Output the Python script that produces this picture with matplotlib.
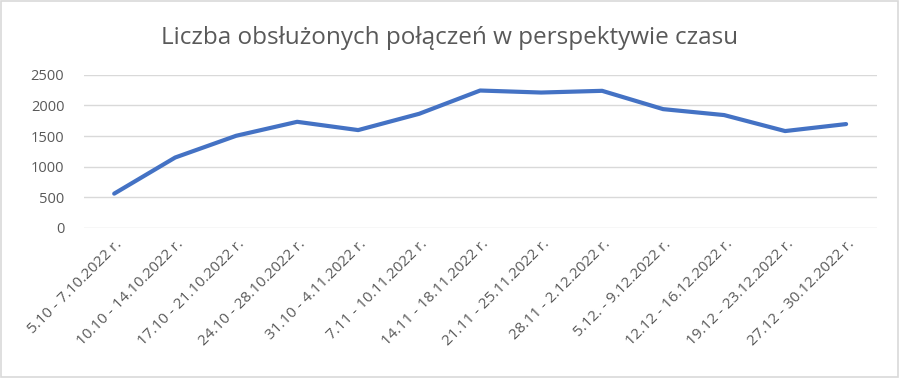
import matplotlib.pyplot as plt
from matplotlib.transforms import ScaledTranslation

# data
weeks = ["5.10 - 7.10.2022 r.", "10.10 - 14.10.2022 r.", "17.10 - 21.10.2022 r.",
         "24.10 - 28.10.2022 r.", "31.10 - 4.11.2022 r.", "7.11 - 10.11.2022 r.",
         "14.11 - 18.11.2022 r.", "21.11 - 25.11.2022 r.", "28.11 - 2.12.2022 r.",
         "5.12. - 9.12.2022 r.", "12.12 - 16.12.2022 r.", "19.12 - 23.12.2022 r.",
         "27.12 - 30.12.2022 r."]
calls = [560, 1150, 1505, 1733, 1598, 1864, 2244, 2211, 2239, 1940, 1843, 1582, 1696]
yticks = [0, 500, 1000, 1500, 2000, 2500]

plt.rcParams['font.family'] = ['Open Sans', 'DejaVu Sans']
text_col = '#595959'

fig = plt.figure(figsize=(9, 3.78), dpi=100)
ax = fig.add_axes([0.093, 0.397, 0.881, 0.405])

x = list(range(len(weeks)))
ax.plot(x, calls, color='#4472C4', lw=3, solid_capstyle='round', solid_joinstyle='round')

ax.set_xlim(-0.5, len(weeks) - 0.5)
ax.set_ylim(0, 2500)
ax.set_yticks(yticks)
ax.set_yticklabels([str(v) for v in yticks], color=text_col, fontsize=10.5)
ax.grid(axis='y', color='#D9D9D9', lw=1)
ax.set_axisbelow(True)
for s in ax.spines.values():
    s.set_visible(False)
ax.tick_params(axis='x', length=0, pad=10)
ax.tick_params(axis='y', length=0, pad=14)

ax.set_xticks(x)
ax.set_xticklabels(weeks, rotation=45, ha='right', va='center', rotation_mode='anchor',
                   color=text_col, fontsize=11)
shift = ScaledTranslation(6 / 100, 0, fig.dpi_scale_trans)
for lab in ax.get_xticklabels():
    lab.set_transform(lab.get_transform() + shift)

fig.text(0.5, 0.9, "Liczba obsłużonych połączeń w perspektywie czasu",
         ha='center', va='center', fontsize=17.5, color=text_col)

# light frame around the chart
fig.patches.append(plt.Rectangle((0.001, 0.002), 0.997, 0.995, transform=fig.transFigure,
                                 fill=False, edgecolor='#D9D9D9', lw=1.2))

fig.savefig("out.png", dpi=100)
